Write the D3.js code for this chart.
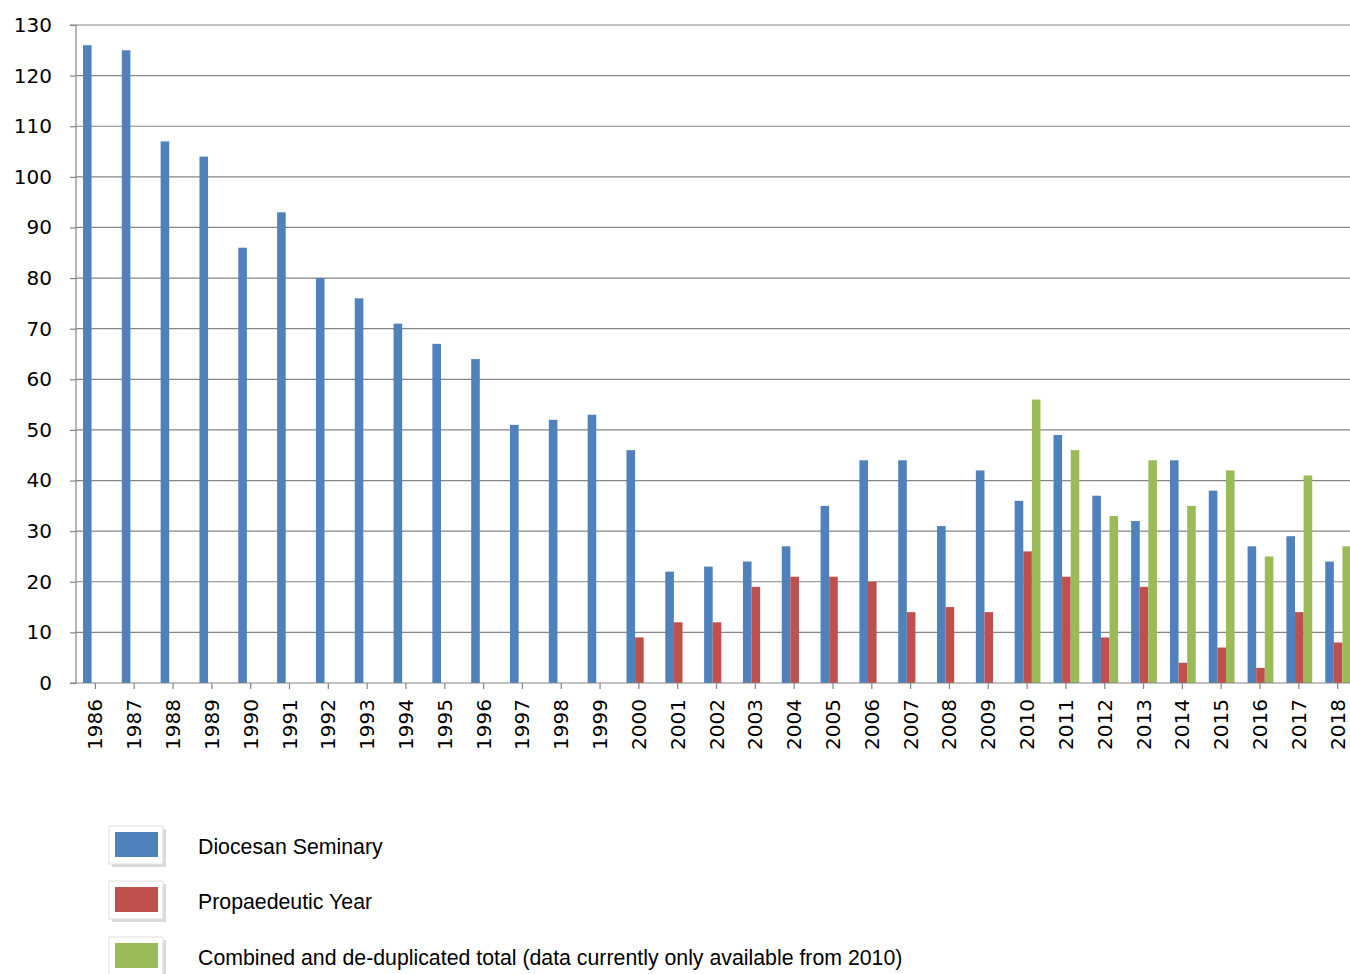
<!DOCTYPE html>
<html><head><meta charset="utf-8">
<script src="https://cdn.jsdelivr.net/npm/d3@7"></script>
<style>body{margin:0;background:#fff;font-family:"Liberation Sans",Arial,sans-serif;}</style>
</head><body>
<script>
const years = d3.range(1986, 2019).map(String);
const diocesan = [126,125,107,104,86,93,80,76,71,67,64,51,52,53,46,22,23,24,27,35,44,44,31,42,36,49,37,32,44,38,27,29,24];
const propYears = ["2000","2001","2002","2003","2004","2005","2006","2007","2008","2009","2010","2011","2012","2013","2014","2015","2016","2017","2018"];
const propaedeutic = [9,12,12,19,21,21,20,14,15,14,26,21,9,19,4,7,3,14,8];
const combYears = ["2010","2011","2012","2013","2014","2015","2016","2017","2018"];
const combined = [56,46,33,44,35,42,25,41,27];
const yTicks = d3.range(0, 131, 10);
const series = [
  {name:"Diocesan Seminary", color:"#4f81bd", cats:years, vals:diocesan, idx:0},
  {name:"Propaedeutic Year", color:"#c0504d", cats:propYears, vals:propaedeutic, idx:1},
  {name:"Combined and de-duplicated total (data currently only available from 2010)", color:"#9bbb59", cats:combYears, vals:combined, idx:2}
];

const W = 1350, H = 974;
const svg = d3.select('body').append('svg').attr('width', W).attr('height', H);
const x0 = 76, y0 = 683, yTop = 25, band = 38.82;
const x = d3.scaleBand().domain(years).range([x0, x0 + band * years.length]).padding(0);
const y = d3.scaleLinear().domain([0, 130]).range([y0, yTop]);
const bw = 8.6, off = 7;
const tickFont = '"DejaVu Sans",sans-serif';

// gridlines
svg.append('g').selectAll('line').data(yTicks.slice(1)).enter().append('line')
  .attr('x1', x0).attr('x2', W).attr('y1', d => y(d)).attr('y2', d => y(d))
  .attr('stroke', '#868686').attr('stroke-width', 1.2);

// bars
series.forEach(s => {
  svg.append('g').selectAll('rect').data(s.vals).enter().append('rect')
    .attr('x', (d, i) => x(s.cats[i]) + off + s.idx * bw)
    .attr('y', d => y(d)).attr('width', bw).attr('height', d => y0 - y(d))
    .attr('fill', s.color);
});

// y axis
const ya = svg.append('g').attr('transform', `translate(${x0},0)`)
  .call(d3.axisLeft(y).tickValues(yTicks).tickSize(6).tickPadding(18));
ya.selectAll('text').style('font-size', '20px').style('font-family', tickFont).attr('fill', '#000');
ya.selectAll('line,path').attr('stroke', '#868686').attr('stroke-width', 1.2);
ya.select('.domain').attr('d', `M-6,${yTop}H0V${y0}H-6`);

// x axis
const xa = svg.append('g').attr('transform', `translate(0,${y0})`)
  .call(d3.axisBottom(x).tickSize(6).tickPadding(0));
xa.select('.domain').attr('d', `M${x0},0H${W}`);
xa.selectAll('line,path').attr('stroke', '#868686').attr('stroke-width', 1.2);
xa.selectAll('text').style('font-size', '20px').style('font-family', tickFont).attr('fill', '#000')
  .attr('transform', 'rotate(-90)').attr('text-anchor', 'end').attr('x', -16).attr('y', 0).attr('dy', '0.35em');

// legend
const lg = svg.append('g');
const ly = [846, 901, 957];
series.forEach((s, i) => {
  lg.append('rect').attr('x', 112).attr('y', ly[i] - 17).attr('width', 54).attr('height', 38).attr('fill', '#d9d9d9');
  lg.append('rect').attr('x', 109).attr('y', ly[i] - 20).attr('width', 54).attr('height', 38).attr('fill', '#fff').attr('stroke', '#e0e0e0');
  lg.append('rect').attr('x', 115).attr('y', ly[i] - 14).attr('width', 43).attr('height', 25).attr('fill', s.color);
  lg.append('text').attr('x', 198).attr('y', ly[i] + 8).style('font-size', '21.3px').text(s.name);
});
</script>
</body></html>
